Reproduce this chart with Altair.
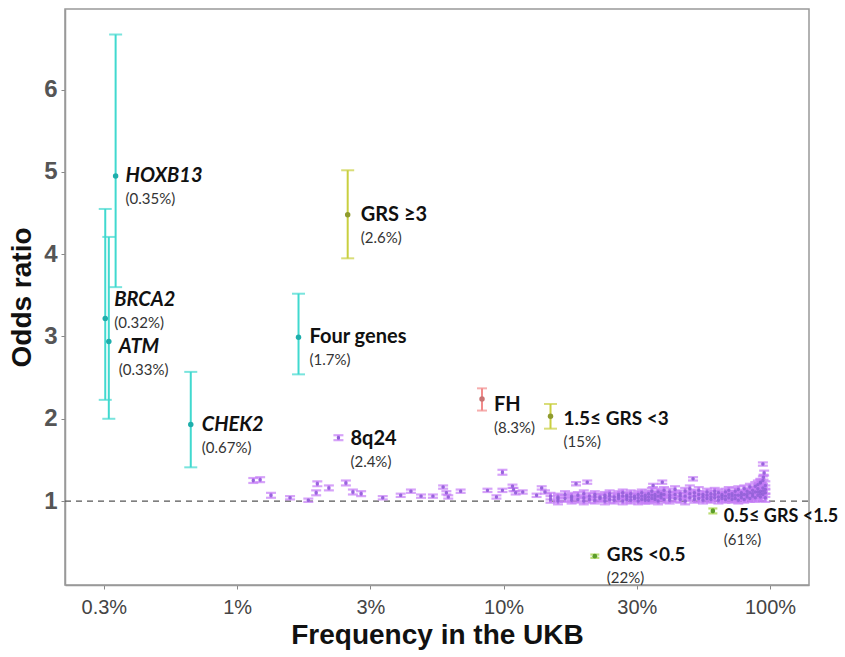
import altair as alt
import pandas as pd

# ---------------- data ----------------
names = ["HOXB13", "BRCA2", "ATM", "CHEK2", "Four genes", "GRS \u22653", "8q24",
         "FH", "1.5\u2264 GRS <3", "0.5\u2264 GRS <1.5", "GRS <0.5"]
pct_text = ["(0.35%)", "(0.32%)", "(0.33%)", "(0.67%)", "(1.7%)", "(2.6%)", "(2.4%)",
            "(8.3%)", "(15%)", "(61%)", "(22%)"]
freq = [0.35, 0.32, 0.33, 0.67, 1.7, 2.6, 2.4, 8.3, 15, 61, 22]
odds = [4.95, 3.22, 2.94, 1.93, 2.99, 4.48, 1.77, 2.24, 2.03, 0.88, 0.33]
lo = [3.60, 2.23, 2.00, 1.41, 2.54, 3.95, 1.74, 2.10, 1.88, 0.85, 0.31]
hi = [6.67, 4.55, 4.21, 2.57, 3.52, 5.02, 1.80, 2.37, 2.18, 0.91, 0.35]
group = ["gene", "gene", "gene", "gene", "gene", "grs_high", "snp", "fh",
         "grs_high", "grs_low", "grs_low"]
italic_names = ["HOXB13", "BRCA2", "ATM", "CHEK2"]

x_tick_values = [0.3162, 1, 3.162, 10, 31.62, 100]
x_tick_labels = ["0.3%", "1%", "3%", "10%", "30%", "100%"]
y_tick_values = [1, 2, 3, 4, 5, 6]

# individual SNP estimates (frequency %, odds ratio, CI half-width)
snp_freq = [1.15, 1.22, 1.34, 1.58, 1.85, 1.98, 2.0, 2.21, 2.56, 2.72, 2.92, 3.52,
            4.11, 4.49, 4.9, 5.43, 5.93, 6.1, 6.2, 6.9, 8.7, 9.4, 9.9, 9.9, 10.8,
            10.9, 11.1, 11.8, 13.3, 13.9, 14.3, 18.7, 20.6, 36.4, 39.4, 51.4, 94,
            92, 94.5, 95]
snp_or = [1.25, 1.26, 1.07, 1.04, 1.01, 1.10, 1.21, 1.16, 1.22, 1.11, 1.09, 1.04,
          1.07, 1.12, 1.06, 1.06, 1.17, 1.10, 1.05, 1.12, 1.13, 1.05, 1.13, 1.35, 1.18,
          1.14, 1.10, 1.11, 1.07, 1.16, 1.11, 1.21, 1.23, 1.19, 1.23, 1.27, 1.45,
          1.23, 1.29, 1.34]
snp_hw = [0.03, 0.03, 0.03, 0.02, 0.02, 0.03, 0.03, 0.03, 0.03, 0.03, 0.03, 0.02,
          0.02, 0.02, 0.02, 0.02, 0.02, 0.02, 0.02, 0.02, 0.02, 0.02, 0.02, 0.03, 0.02,
          0.02, 0.02, 0.02, 0.02, 0.02, 0.02, 0.02, 0.02, 0.02, 0.02, 0.02, 0.02,
          0.03, 0.03, 0.03]

# dense band of common SNPs
band_freq = [15, 16, 17, 18, 19, 20, 21, 22, 23, 24, 25, 26, 27, 28, 29, 30, 31, 32,
             33, 34, 35, 36, 37, 38, 39, 40, 42, 44, 46, 48, 50, 52, 54, 56, 58, 60,
             62, 64, 66, 68, 70, 72, 74, 76, 78, 80, 82, 84, 86, 88, 90, 92, 94, 96]
band_or = [[1.02, 1.06], [1.00, 1.03, 1.05], [1.03, 1.08], [1.01, 1.04, 1.06],
           [1.02, 1.07], [1.00, 1.04, 1.09], [1.02, 1.06], [1.01, 1.05, 1.08],
           [1.03, 1.05], [1.00, 1.04, 1.07], [1.02, 1.06, 1.09], [1.01, 1.05],
           [1.03, 1.06, 1.08], [1.00, 1.06, 1.10], [1.02, 1.05, 1.07],
           [1.01, 1.05, 1.09], [1.03, 1.06], [1.00, 1.04, 1.08], [1.02, 1.06, 1.10],
           [1.01, 1.04, 1.07], [1.01, 1.05, 1.09], [1.03, 1.07, 1.12],
           [1.02, 1.05, 1.08], [1.00, 1.06, 1.11], [1.04, 1.07, 1.09],
           [1.02, 1.08, 1.13], [1.01, 1.04, 1.07, 1.11], [1.03, 1.08, 1.14],
           [1.02, 1.06, 1.09], [1.00, 1.06, 1.12], [1.04, 1.09, 1.15],
           [1.02, 1.06, 1.10], [1.03, 1.08, 1.13], [1.01, 1.05, 1.08],
           [1.03, 1.07, 1.11], [1.02, 1.05, 1.09], [1.04, 1.08, 1.12],
           [1.01, 1.05, 1.10], [1.03, 1.06, 1.08], [1.02, 1.06, 1.11],
           [1.04, 1.08, 1.13], [1.02, 1.06, 1.09], [1.03, 1.07, 1.12],
           [1.01, 1.07, 1.14], [1.04, 1.07, 1.10], [1.02, 1.08, 1.15],
           [1.05, 1.08, 1.12], [1.03, 1.10, 1.17], [1.06, 1.09, 1.13],
           [1.04, 1.11, 1.18], [1.07, 1.11, 1.15, 1.20], [1.05, 1.09, 1.12, 1.22],
           [1.08, 1.12, 1.16, 1.25], [1.04, 1.10, 1.14, 1.19]]
band_hw = [0.04, 0.04, 0.04, 0.04, 0.04, 0.04, 0.04, 0.04, 0.04, 0.04, 0.04, 0.04,
           0.04, 0.04, 0.04, 0.04, 0.04, 0.04, 0.04, 0.04, 0.04, 0.04, 0.04, 0.04,
           0.04, 0.04, 0.04, 0.04, 0.04, 0.04, 0.04, 0.04, 0.04, 0.04, 0.04, 0.04,
           0.04, 0.04, 0.04, 0.04, 0.04, 0.04, 0.04, 0.04, 0.04, 0.04, 0.04, 0.04,
           0.05, 0.05, 0.05, 0.05, 0.05, 0.05]

# ---------------- tables ----------------
snp_rows = []
for f, o, h in zip(snp_freq, snp_or, snp_hw):
    snp_rows.append({"freq": f, "odds": o, "lo": o - h, "hi": o + h})
for f, ors, h in zip(band_freq, band_or, band_hw):
    for o in ors:
        snp_rows.append({"freq": f, "odds": o, "lo": o - h, "hi": o + h})
snp_df = pd.DataFrame(snp_rows)

main_df = pd.DataFrame({"name": names, "pct": pct_text, "freq": freq, "odds": odds,
                        "lo": lo, "hi": hi, "group": group})

# ---------------- styles ----------------
styles = {
    "snp": dict(bar="#c47cf7", dot="#8d5fd4", cap=10, bw=2.8, dot_size=12),
    "gene": dict(bar="#40d9cf", dot="#1eaeab", cap=13, bw=2, dot_size=30),
    "grs_high": dict(bar="#c9cf3f", dot="#8f9b2e", cap=13, bw=2, dot_size=30),
    "fh": dict(bar="#f28b8b", dot="#c87474", cap=10, bw=2, dot_size=30),
    "grs_low": dict(bar="#9fd03c", dot="#5c9e2a", cap=9, bw=2.2, dot_size=22),
}
# label offsets in pixels (dx, dy of the name line) and font sizes
label_off = {
    "HOXB13": (10, 0), "BRCA2": (9, -18), "ATM": (10, 6), "CHEK2": (11, 0),
    "Four genes": (11, 0), "GRS \u22653": (13, 0), "8q24": (12, 1), "FH": (12, 6),
    "1.5\u2264 GRS <3": (13, 3), "0.5\u2264 GRS <1.5": (11, 6), "GRS <0.5": (12, -1),
}
label_size = {"0.5\u2264 GRS <1.5": 18, "1.5\u2264 GRS <3": 19, "GRS <0.5": 19}

# ---------------- scales / axes ----------------
x_scale = alt.Scale(type="log", domain=[0.226, 140], nice=False)
y_scale = alt.Scale(domain=[-0.02, 6.98], nice=False, zero=False)

expr = "'" + x_tick_labels[-1] + "'"
for i in range(len(x_tick_values) - 2, -1, -1):
    thr = (x_tick_values[i] * x_tick_values[i + 1]) ** 0.5
    expr = f"datum.value < {thr:.4f} ? '{x_tick_labels[i]}' : ({expr})"

x_axis = alt.Axis(title="Frequency in the UKB", values=x_tick_values, labelExpr=expr,
                  grid=False, tickSize=4, tickColor="#888", domainColor="#999",
                  domainWidth=1.5, labelFont="Liberation Sans", labelFontSize=20,
                  labelColor="#444", labelPadding=8, titleFont="Liberation Sans",
                  titleFontSize=28, titleFontWeight="bold", titleColor="#111",
                  titlePadding=4)
y_axis = alt.Axis(title="Odds ratio", values=y_tick_values, grid=False, tickSize=4,
                  tickColor="#888", domainColor="#999", domainWidth=1.5,
                  labelFont="Liberation Sans", labelFontSize=24, labelFontWeight="bold",
                  labelColor="#555", labelPadding=4, titleFont="Liberation Sans",
                  titleFontSize=28, titleFontWeight="bold", titleColor="#111",
                  titlePadding=7)


def X():
    return alt.X("freq:Q", scale=x_scale, axis=x_axis)


def Y(field):
    return alt.Y(f"{field}:Q", scale=y_scale, axis=y_axis)


layers = []
ref = alt.Chart(pd.DataFrame({"freq": [0.226, 140], "ref": [1, 1]})).mark_line(
    strokeDash=[6, 5], color="#555", strokeWidth=1.3).encode(x=X(), y=Y("ref"))
layers.append(ref)


def errorbar_layers(df, st):
    base = alt.Chart(df)
    out = [
        base.mark_rule(color=st["bar"], strokeWidth=st["bw"]).encode(
            x=X(), y=Y("lo"), y2="hi:Q"),
        base.mark_tick(orient="horizontal", color=st["bar"], size=st["cap"],
                       thickness=min(st["bw"], 2.2)).encode(x=X(), y=Y("lo")),
        base.mark_tick(orient="horizontal", color=st["bar"], size=st["cap"],
                       thickness=min(st["bw"], 2.2)).encode(x=X(), y=Y("hi")),
    ]
    return out


layers += errorbar_layers(snp_df, styles["snp"])
layers.append(alt.Chart(snp_df).mark_circle(
    color=styles["snp"]["dot"], size=styles["snp"]["dot_size"], opacity=0.8).encode(
    x=X(), y=Y("odds")))

for g in ["snp", "fh", "grs_low", "grs_high", "gene"]:
    sub = main_df[main_df["group"] == g]
    st = styles[g]
    layers += errorbar_layers(sub, st)
    layers.append(alt.Chart(sub).mark_circle(color=st["dot"], size=st["dot_size"],
                                             opacity=1).encode(x=X(), y=Y("odds")))

for n in names:
    sub = main_df[main_df["name"] == n]
    dx, dy = label_off[n]
    style = "italic" if n in italic_names else "normal"
    layers.append(alt.Chart(sub).mark_text(
        align="left", baseline="middle", dx=dx, dy=dy, font="Lato",
        fontSize=label_size.get(n, 20), fontWeight="bold", fontStyle=style,
        color="#111").encode(x=X(), y=Y("odds"), text="name:N"))
    layers.append(alt.Chart(sub).mark_text(
        align="left", baseline="middle", dx=dx, dy=dy + 23, font="Lato", fontSize=15,
        color="#333").encode(x=X(), y=Y("odds"), text="pct:N"))

chart = alt.layer(*layers).properties(
    width=744, height=576,
    autosize=alt.AutoSizeParams(type="none"),
    padding={"left": 65, "top": 9, "right": 36, "bottom": 72},
    background="white",
).configure_view(stroke="#999", strokeWidth=1.5)

chart.save("out.html", embed_options={"renderer": "svg", "actions": False})
